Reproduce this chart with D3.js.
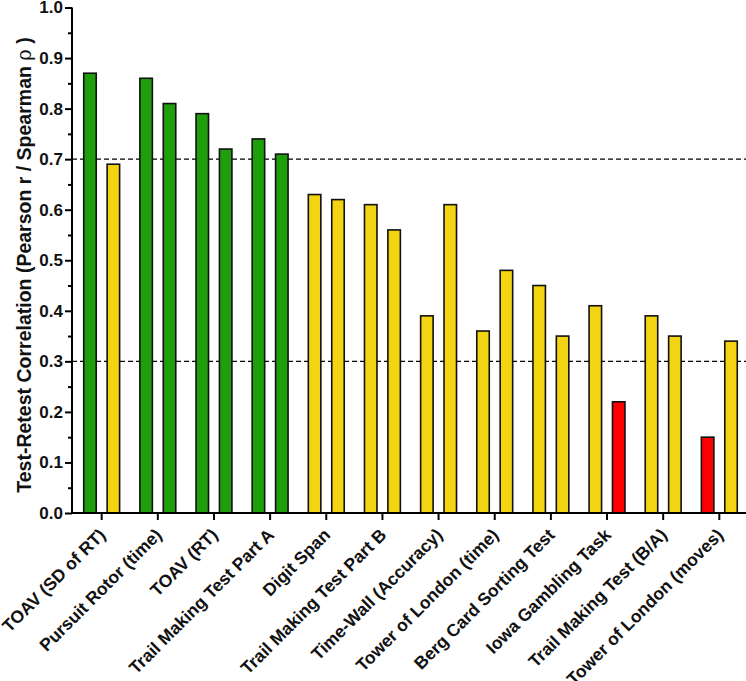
<!DOCTYPE html>
<html>
<head>
<meta charset="utf-8">
<script src="https://cdn.jsdelivr.net/npm/d3@7"></script>
<style>
  body { margin: 0; background: #fff; }
  svg text { font-family: "Liberation Sans", Arial, sans-serif; font-weight: bold; }
</style>
</head>
<body>
<div id="chart"></div>
<script>
// test names, in plotted order
const tests = [
    "TOAV (SD of RT)", "Pursuit Rotor (time)", "TOAV (RT)", "Trail Making Test Part A",
    "Digit Span", "Trail Making Test Part B", "Time-Wall (Accuracy)", "Tower of London (time)",
    "Berg Card Sorting Test", "Iowa Gambling Task", "Trail Making Test (B/A)", "Tower of London (moves)"
];
// two correlation values per test (first and second bar)
const firstValues  = [0.87, 0.86, 0.79, 0.74, 0.63, 0.61, 0.39, 0.36, 0.45, 0.41, 0.39, 0.15];
const secondValues = [0.69, 0.81, 0.72, 0.71, 0.62, 0.56, 0.61, 0.48, 0.35, 0.22, 0.35, 0.34];
const yTicks = [0, 0.1, 0.2, 0.3, 0.4, 0.5, 0.6, 0.7, 0.8, 0.9, 1.0];
const minorTicks = [0.05, 0.15, 0.25, 0.35, 0.45, 0.55, 0.65, 0.75, 0.85, 0.95];
const cutoffs = [0.3, 0.7];

const width = 746, height = 681;

const svg = d3.select("#chart").append("svg")
    .attr("width", width)
    .attr("height", height);

// Scales
const x = d3.scaleBand()
    .domain(tests)
    .range([73.6, 747.4]);

// two bars inside each test band
const sub = d3.scaleBand()
    .domain([0, 1])
    .range([0, x.bandwidth()])
    .paddingInner(0.466)
    .paddingOuter(0.433);

const y = d3.scaleLinear()
    .domain([0, 1])
    .range([513, 7.5]);

// colour by reliability band
const colour = d3.scaleThreshold()
    .domain(cutoffs)
    .range(["#ff0000", "#f2d412", "#1f9e0c"]);

const data = tests.flatMap((t, i) => [
    { test: t, k: 0, value: firstValues[i] },
    { test: t, k: 1, value: secondValues[i] }
]);

// Cutoff lines
svg.append("g")
    .selectAll("line")
    .data(cutoffs)
    .join("line")
    .attr("x1", 72)
    .attr("x2", width)
    .attr("y1", d => y(d))
    .attr("y2", d => y(d))
    .attr("stroke", "#000")
    .attr("stroke-width", 1.2)
    .attr("stroke-dasharray", "5,3");

// Bars
svg.append("g")
    .selectAll("rect")
    .data(data)
    .join("rect")
    .attr("x", d => x(d.test) + sub(d.k))
    .attr("width", sub.bandwidth())
    .attr("y", d => y(d.value))
    .attr("height", d => y(0) - y(d.value))
    .attr("fill", d => colour(d.value))
    .attr("stroke", "#111")
    .attr("stroke-width", 1.6);

// Y axis
const yAxis = d3.axisLeft(y)
    .tickValues(yTicks)
    .tickFormat(d3.format(".1f"))
    .tickSize(7)
    .tickPadding(2);

const gy = svg.append("g")
    .attr("transform", "translate(72,0)")
    .call(yAxis);
gy.select(".domain").attr("stroke-width", 2).attr("d", "M0," + y(1) + "V" + y(0));
gy.selectAll(".tick line").attr("stroke-width", 2);
gy.selectAll(".tick text").attr("font-size", 17).attr("fill", "#111");

svg.append("g")
    .attr("transform", "translate(72,0)")
    .call(d3.axisLeft(y).tickValues(minorTicks).tickSize(4).tickFormat(""))
    .call(g => g.select(".domain").remove())
    .selectAll(".tick line").attr("stroke-width", 2);

// X axis
const gx = svg.append("g")
    .attr("transform", "translate(0," + y(0) + ")")
    .call(d3.axisBottom(x).tickSize(7).tickSizeOuter(0));
gx.select(".domain").attr("stroke-width", 2).attr("d", "M71,0H" + width);
gx.selectAll(".tick line").attr("stroke-width", 2);
gx.selectAll(".tick text")
    .attr("font-size", 17.5)
    .attr("fill", "#111")
    .attr("text-anchor", "end")
    .attr("x", 0)
    .attr("y", 0)
    .attr("dy", 0)
    .attr("transform", "translate(5,23) rotate(-45)");

// Y axis title
svg.append("text")
    .attr("transform", "translate(31,265) rotate(-90)")
    .attr("text-anchor", "middle")
    .attr("font-size", 19.5)
    .attr("fill", "#111")
    .text("Test-Retest Correlation (Pearson r / Spearman ")
    .append("tspan")
    .attr("font-weight", "normal")
    .attr("font-family", "DejaVu Serif")
    .text("ρ")
    .append("tspan")
    .attr("font-weight", "bold")
    .attr("font-family", "Liberation Sans")
    .text(" )");
</script>
</body>
</html>
